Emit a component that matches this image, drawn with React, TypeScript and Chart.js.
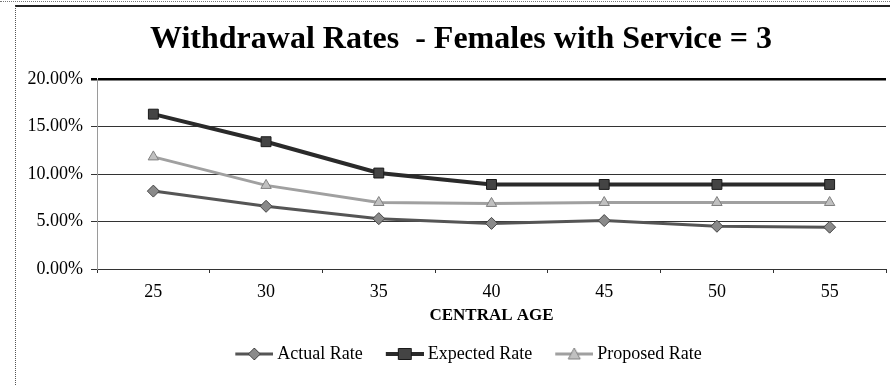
import React, { useEffect, useRef } from "react";
import { Chart, registerables } from "chart.js";

Chart.register(...registerables);

const ages = ["25", "30", "35", "40", "45", "50", "55"];
const actualRate = [0.082, 0.066, 0.053, 0.048, 0.051, 0.045, 0.044];
const expectedRate = [0.163, 0.134, 0.101, 0.089, 0.089, 0.089, 0.089];
const proposedRate = [0.118, 0.088, 0.07, 0.069, 0.07, 0.07, 0.07];
const yTicks = [0, 0.05, 0.1, 0.15, 0.2];

const SERIF = "'Liberation Serif', 'Times New Roman', serif";
const LEGEND_BOX = 46;

function legendGlyph(kind: string, line: string, fill: string, stroke: string, lw: number) {
  const c = document.createElement("canvas");
  c.width = LEGEND_BOX + 10;
  c.height = 16;
  const g = c.getContext("2d")!;
  const x0 = c.width - 38;
  const cx = x0 + 19;
  g.strokeStyle = line;
  g.lineWidth = lw;
  g.beginPath();
  g.moveTo(x0, 8);
  g.lineTo(x0 + 38, 8);
  g.stroke();
  g.fillStyle = fill;
  g.strokeStyle = stroke;
  g.lineWidth = 1;
  g.beginPath();
  if (kind === "diamond") {
    g.moveTo(cx, 2);
    g.lineTo(cx + 6, 8);
    g.lineTo(cx, 14);
    g.lineTo(cx - 6, 8);
    g.closePath();
  } else if (kind === "square") {
    g.rect(cx - 6.5, 2.5, 13, 11);
  } else {
    g.moveTo(cx, 2);
    g.lineTo(cx + 6, 13);
    g.lineTo(cx - 6, 13);
    g.closePath();
  }
  g.fill();
  g.stroke();
  return c;
}

const shiftPlugin = {
  id: "shiftBlocks",
  afterLayout(chart: any) {
    const lg = chart.legend;
    if (lg) {
      lg.left += 15;
      lg.right += 15;
    }
    const tb = chart.titleBlock;
    if (tb) {
      tb.left += 14;
      tb.right += 14;
    }
  },
};

export default function App() {
  const ref = useRef<HTMLCanvasElement | null>(null);

  useEffect(() => {
    if (!ref.current) return;
    const glyphs = [
      legendGlyph("diamond", "#555", "#8a8a8a", "#444", 3),
      legendGlyph("square", "#2a2a2a", "#444", "#1a1a1a", 4),
      legendGlyph("triangle", "#a0a0a0", "#c0c0c0", "#808080", 3),
    ];
    const chart = new Chart(ref.current, {
      type: "line",
      data: {
        labels: ages,
        datasets: [
          {
            label: "Actual Rate",
            data: actualRate,
            borderColor: "#555",
            borderWidth: 3,
            pointStyle: "rectRot",
            pointRadius: 6,
            pointBackgroundColor: "#8a8a8a",
            pointBorderColor: "#444",
            pointBorderWidth: 1,
            tension: 0,
          },
          {
            label: "Expected Rate",
            data: expectedRate,
            borderColor: "#2a2a2a",
            borderWidth: 4,
            pointStyle: "rect",
            pointRadius: 7,
            pointBackgroundColor: "#444",
            pointBorderColor: "#1a1a1a",
            pointBorderWidth: 1,
            tension: 0,
          },
          {
            label: "Proposed Rate",
            data: proposedRate,
            borderColor: "#a0a0a0",
            borderWidth: 3,
            pointStyle: "triangle",
            pointRadius: 6,
            pointBackgroundColor: "#c0c0c0",
            pointBorderColor: "#808080",
            pointBorderWidth: 1,
            tension: 0,
          },
        ],
      },
      options: {
        animation: false,
        responsive: false,
        maintainAspectRatio: false,
        layout: { padding: { left: 0, right: 0, top: 0, bottom: 12 } },
        plugins: {
          title: {
            display: true,
            text: "Withdrawal Rates  - Females with Service = 3",
            color: "#000",
            font: { family: SERIF, size: 32, weight: "bold", lineHeight: 1.2 },
            padding: { top: 21, bottom: 19.6 },
          },
          legend: {
            position: "bottom",
            labels: {
              usePointStyle: true,
              pointStyleWidth: LEGEND_BOX,
              padding: 10,
              color: "#000",
              font: { family: SERIF, size: 18 },
              generateLabels: (ch: any) =>
                ch.data.datasets.map((ds: any, i: number) => ({
                  text: ds.label,
                  pointStyle: glyphs[i],
                  fillStyle: "transparent",
                  strokeStyle: "transparent",
                  lineWidth: 0,
                  fontColor: "#000",
                  hidden: false,
                  datasetIndex: i,
                })),
            },
          },
          tooltip: { enabled: false },
        },
        scales: {
          x: {
            offset: true,
            grid: {
              offset: true,
              drawOnChartArea: false,
              drawTicks: true,
              tickLength: 4,
              color: "#333",
            },
            border: { display: true, color: "#333", width: 1 },
            ticks: {
              color: "#000",
              padding: 8,
              font: { family: SERIF, size: 18 },
            },
            title: {
              display: true,
              text: "CENTRAL AGE",
              color: "#000",
              font: { family: SERIF, size: 17, weight: "bold", lineHeight: 1.2 },
              padding: { top: 4, bottom: 9 },
            },
            afterFit: (s: any) => {
              s.height = 66;
            },
          },
          y: {
            min: 0,
            max: 0.2,
            afterBuildTicks: (s: any) => {
              s.ticks = yTicks.map((v) => ({ value: v }));
            },
            grid: {
              color: (ctx: any) => (ctx.tick && ctx.tick.value === 0.2 ? "#000" : "#333"),
              lineWidth: (ctx: any) => (ctx.tick && ctx.tick.value === 0.2 ? 2.5 : 1),
              tickLength: 6,
              drawTicks: true,
            },
            border: { display: true, color: "#9a9a9a", width: 1 },
            ticks: {
              color: "#000",
              padding: 8,
              font: { family: SERIF, size: 18 },
              callback: (v: any) => (Number(v) * 100).toFixed(2) + "%",
            },
            afterFit: (s: any) => {
              s.width = 97;
            },
          },
        },
      },
      plugins: [shiftPlugin],
    });
    return () => chart.destroy();
  }, []);

  return (
    <div style={{ position: "absolute", left: 0, top: 0, width: 890, height: 385, background: "#fff", overflow: "hidden" }}>
      <canvas ref={ref} width={894} height={385} style={{ position: "absolute", left: 0, top: 0 }} />
      <div style={{ position: "absolute", left: 0, top: 1, width: 890, height: 0, borderTop: "1px dotted #777" }} />
      <div style={{ position: "absolute", left: 15, top: 5, width: 880, height: 390, borderTop: "2px solid #222", borderLeft: "1px dotted #555" }} />
    </div>
  );
}
